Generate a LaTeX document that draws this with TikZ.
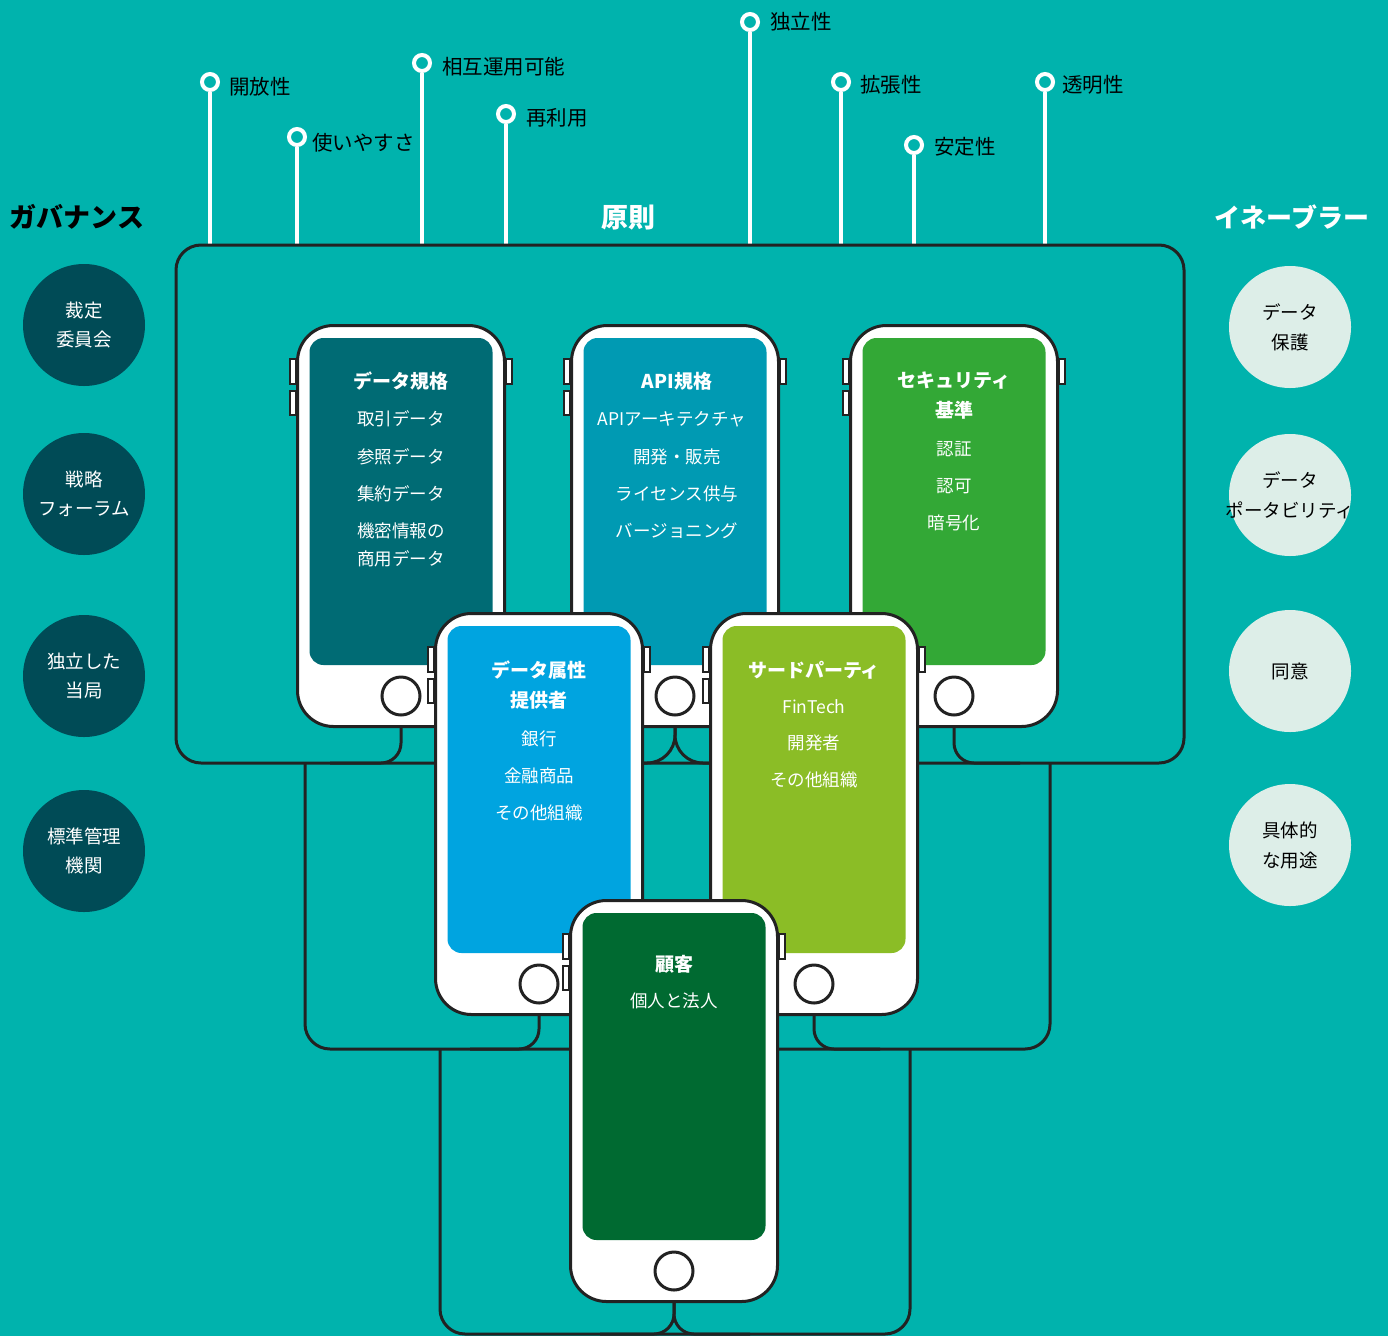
\documentclass[tikz,border=0pt]{standalone}
\usepackage{fontspec}
\setmainfont{Noto Sans CJK JP}
\definecolor{bg}{HTML}{00B3AD}
\definecolor{ink}{HTML}{222222}
\definecolor{scrA}{HTML}{006B74}
\definecolor{scrB}{HTML}{009AB3}
\definecolor{scrC}{HTML}{33A836}
\definecolor{scrD}{HTML}{00A4E0}
\definecolor{scrE}{HTML}{8BBD26}
\definecolor{scrF}{HTML}{006A31}
\definecolor{govc}{HTML}{004B56}
\definecolor{enac}{HTML}{DDEEE8}
\tikzset{
  line/.style={draw=ink, line width=3pt},
  phonebody/.style={rectangle, draw=ink, line width=3pt, fill=white, rounded corners=36pt, minimum width=207pt, minimum height=401pt, inner sep=0pt},
  screen/.style={rectangle, rounded corners=14pt, minimum width=183pt, minimum height=327pt, inner sep=0pt},
  homebtn/.style={circle, draw=ink, line width=3pt, fill=white, minimum size=38pt, inner sep=0pt},
  sidebtn/.style={draw=ink, line width=2.5pt, fill=white},
  pin/.style={circle, draw=white, line width=4pt, fill=bg, minimum size=16pt, inner sep=0pt},
  pinline/.style={draw=white, line width=4pt},
  pinlabel/.style={anchor=west, inner sep=0pt, text=black, font=\fontsize{20.5}{24}\selectfont},
  head/.style={inner sep=0pt, font=\bfseries\fontsize{27}{32}\selectfont},
  ttl/.style={inner sep=0pt, text=white, font=\bfseries\fontsize{19}{23}\selectfont},
  itm/.style={inner sep=0pt, text=white, font=\fontsize{17.5}{21}\selectfont},
  gov/.style={circle, fill=govc, minimum size=122pt, inner sep=0pt, text=white, align=center, font=\fontsize{18.5}{29}\selectfont},
  ena/.style={circle, fill=enac, minimum size=122pt, inner sep=0pt, text=black, align=center, font=\fontsize{18.5}{30}\selectfont},
}
\newcommand\drawphone[4]{%
  \draw[sidebtn] ({#2-111},{#3+35}) rectangle ({#2-105},{#3+60});
  \draw[sidebtn] ({#2-111},{#3+67}) rectangle ({#2-105},{#3+91});
  \draw[sidebtn] ({#2+105},{#3+35}) rectangle ({#2+111},{#3+60});
  \node[phonebody] (#1) at ({#2},{#3+202}) {};
  \node[screen, fill=#4] (#1s) at ({#2},{#3+177.5}) {};
  \node[homebtn] (#1h) at ({#2},{#3+372}) {};
}
\begin{document}
\begin{tikzpicture}[x=1pt,y=-1pt]
\fill[bg] (0,0) rectangle (1388,1336);
\useasboundingbox (0,0) rectangle (1388,1336);
\coordinate (topedge) at (0,245);

% principle pins
\node[pin] (pa) at (210,82) {};
\node[pin] (pb) at (297,137) {};
\node[pin] (pc) at (422,63) {};
\node[pin] (pd) at (506,114) {};
\node[pin] (pe) at (750,22) {};
\node[pin] (pf) at (841,82) {};
\node[pin] (pg) at (914,145) {};
\node[pin] (ph) at (1045,82) {};
\foreach \p in {pa,pb,pc,pd,pe,pf,pg,ph}{
  \draw[pinline] (\p.south) -- (\p.south |- topedge);
}
\node[pinlabel] (la) at (229,87) {開放性};
\node[pinlabel] (lb) at (312,143) {使いやすさ};
\node[pinlabel] (lc) at (442,67) {相互運用可能};
\node[pinlabel] (ld) at (526,118) {再利用};
\node[pinlabel] (le) at (770,22) {独立性};
\node[pinlabel] (lf) at (860,85) {拡張性};
\node[pinlabel] (lg) at (934,147) {安定性};
\node[pinlabel] (lh) at (1062,85) {透明性};

% brackets
\draw[line, rounded corners=25pt] (176,245) rectangle (1184,763);
\draw[line, rounded corners=25pt] (305,763) -- (305,1049) -- (1050,1049) -- (1050,763);
\draw[line, rounded corners=25pt] (440,1049) -- (440,1334) -- (910,1334) -- (910,1049);

% row 1
\drawphone{p1}{401}{324}{scrA}
\drawphone{p2}{675}{324}{scrB}
\drawphone{p3}{954}{324}{scrC}
\draw[line, rounded corners=20pt] (p1.south) |- (330,763);
\draw[line, rounded corners=28pt] (p2.south) |- (610,763);
\draw[line, rounded corners=28pt] (p2.south) |- (740,763);
\draw[line, rounded corners=20pt] (p3.south) |- (1020,763);

% row 2
\drawphone{p4}{539}{612}{scrD}
\drawphone{p5}{814}{612}{scrE}
\draw[line, rounded corners=20pt] (p4.south) |- (470,1049);
\draw[line, rounded corners=20pt] (p5.south) |- (880,1049);

% row 3
\drawphone{p6}{674}{899}{scrF}
\draw[line, rounded corners=20pt] (p6.south) |- (600,1334);
\draw[line, rounded corners=20pt] (p6.south) |- (750,1334);

% phone texts
\node[ttl] (t1a) at (401,381) {データ規格};
\node[itm] (t1b) at (401,419) {取引データ};
\node[itm] (t1c) at (401,457) {参照データ};
\node[itm] (t1d) at (401,494) {集約データ};
\node[itm] (t1e) at (401,531) {機密情報の};
\node[itm] (t1f) at (401,559) {商用データ};

\node[ttl] (t2a) at (677,381) {API規格};
\node[itm] (t2b) at (672,419) {APIアーキテクチャ};
\node[itm] (t2c) at (677,457) {開発・販売};
\node[itm] (t2d) at (677,494) {ライセンス供与};
\node[itm] (t2e) at (677,531) {バージョニング};

\node[ttl] (t3a) at (954,381) {セキュリティ};
\node[ttl] (t3b) at (954,410) {基準};
\node[itm] (t3c) at (954,449) {認証};
\node[itm] (t3d) at (954,486) {認可};
\node[itm] (t3e) at (954,523) {暗号化};

\node[ttl] (t4a) at (539,670) {データ属性};
\node[ttl] (t4b) at (539,700) {提供者};
\node[itm] (t4c) at (539,739) {銀行};
\node[itm] (t4d) at (539,776) {金融商品};
\node[itm] (t4e) at (539,813) {その他組織};

\node[ttl] (t5a) at (814,670) {サードパーティ};
\node[itm] (t5b) at (814,707) {FinTech};
\node[itm] (t5c) at (814,743) {開発者};
\node[itm] (t5d) at (814,780) {その他組織};

\node[ttl] (t6a) at (674,964) {顧客};
\node[itm] (t6b) at (674,1001) {個人と法人};

% headings
\node[head, text=black] (hgov) at (77,217) {ガバナンス};
\node[head, text=white] (hpri) at (628,218) {原則};
\node[head, text=white, font=\bfseries\fontsize{26}{30}\selectfont] (hena) at (1292,217) {イネーブラー};

% governance circles
\node[gov] (g1) at (84,325) {裁定\\委員会};
\node[gov] (g2) at (84,494) {戦略\\フォーラム};
\node[gov] (g3) at (84,676) {独立した\\当局};
\node[gov] (g4) at (84,851) {標準管理\\機関};

% enabler circles
\node[ena] (e1) at (1290,327) {データ\\保護};
\node[ena] (e2) at (1290,495) {データ\\\makebox[0pt]{ポータビリティ}};
\node[ena] (e3) at (1290,671) {同意};
\node[ena] (e4) at (1290,845) {具体的\\な用途};
\end{tikzpicture}
\end{document}
